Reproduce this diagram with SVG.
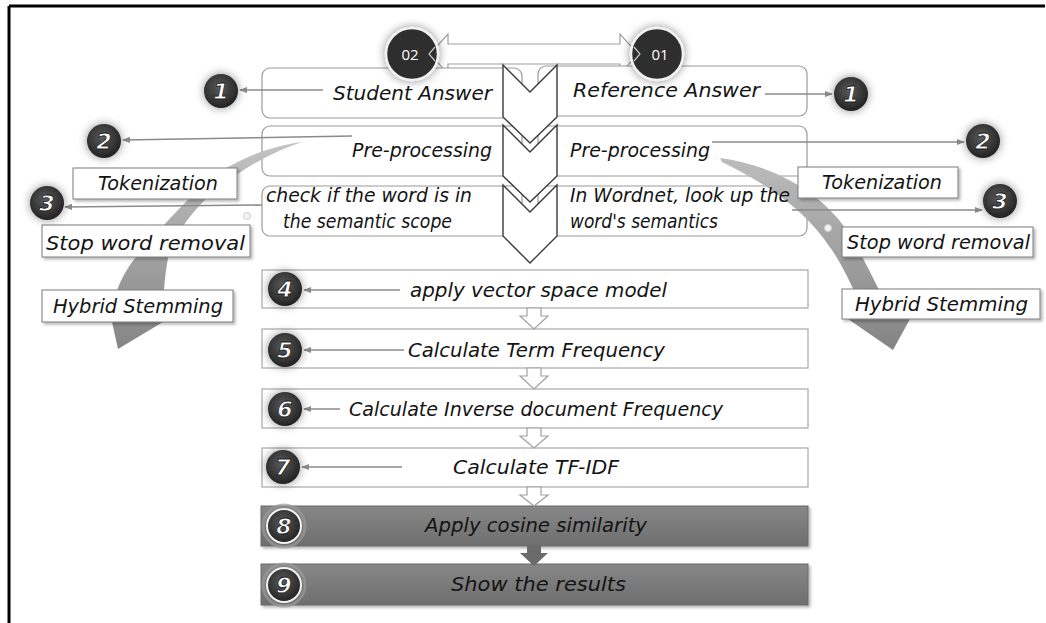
<svg xmlns="http://www.w3.org/2000/svg" width="1046" height="623" viewBox="0 0 1046 623">
  <defs>
    <style>
      .hand { font-family: "DejaVu Sans", "Noto Sans", sans-serif; font-style: italic; font-size: 20px; fill: #141414; }
      .rbox { fill: #fff; stroke: #9a9a9a; stroke-width: 1.2; }
      .step { fill: #fff; stroke: #a8a8a8; stroke-width: 1.2; }
      .dark { fill: url(#darkFill); stroke: #6a6a6a; stroke-width: 1; filter: url(#shadow); }
      .tag { fill: #fff; stroke: #7a7a7a; stroke-width: 1; filter: url(#shadow); }
      .chev { fill: #fff; stroke: #3a3a3a; stroke-width: 1.4; stroke-linejoin: miter; }
      .hollow { fill: #fff; stroke: #a0a0a0; stroke-width: 1.2; }
      .conn { stroke: #8a8a8a; stroke-width: 1.6; fill: none; marker-end: url(#tip); }
      .glowline { stroke: #f4f4f4; stroke-width: 3; fill: none; stroke-linecap: round; filter: url(#whiteGlow); marker-end: url(#tipLight); }
      .badge { fill: url(#ball); filter: url(#glow); }
      .num { font-family: "DejaVu Sans", sans-serif; font-weight: bold; font-style: italic; font-size: 22px; fill: #fff; stroke: #1a1a1a; stroke-width: 0.8; text-anchor: middle; }
      .seq { font-family: "Open Sans", "Liberation Sans", sans-serif; font-size: 15px; fill: #fff; text-anchor: middle; }
    </style>
    <radialGradient id="ball" cx="45%" cy="40%" r="65%">
      <stop offset="0" stop-color="#5a5a5a"/>
      <stop offset="1" stop-color="#1e1e1e"/>
    </radialGradient>
    <linearGradient id="darkFill" x1="0" y1="0" x2="0" y2="1">
      <stop offset="0" stop-color="#878787"/>
      <stop offset="1" stop-color="#6e6e6e"/>
    </linearGradient>
    <linearGradient id="swoopL" gradientUnits="userSpaceOnUse" x1="0" y1="140" x2="0" y2="350">
      <stop offset="0" stop-color="#c4c4c4"/>
      <stop offset="1" stop-color="#858585"/>
    </linearGradient>
    <linearGradient id="swoopR" gradientUnits="userSpaceOnUse" x1="0" y1="155" x2="0" y2="350">
      <stop offset="0" stop-color="#bdbdbd"/>
      <stop offset="1" stop-color="#848484"/>
    </linearGradient>
    <filter id="glow" x="-90%" y="-90%" width="280%" height="280%">
      <feGaussianBlur in="SourceAlpha" stdDeviation="5"/>
      <feComponentTransfer><feFuncA type="linear" slope="0.45"/></feComponentTransfer>
      <feMerge><feMergeNode/><feMergeNode in="SourceGraphic"/></feMerge>
    </filter>
    <filter id="shadow" x="-10%" y="-30%" width="120%" height="170%">
      <feGaussianBlur in="SourceAlpha" stdDeviation="1.5"/>
      <feOffset dx="1.5" dy="2"/>
      <feComponentTransfer><feFuncA type="linear" slope="0.3"/></feComponentTransfer>
      <feMerge><feMergeNode/><feMergeNode in="SourceGraphic"/></feMerge>
    </filter>
    <filter id="whiteGlow" x="-20%" y="-300%" width="140%" height="700%">
      <feGaussianBlur in="SourceGraphic" stdDeviation="2.5" result="b"/>
      <feMerge><feMergeNode in="b"/><feMergeNode in="SourceGraphic"/></feMerge>
    </filter>
    <marker id="tip" viewBox="0 0 10 10" refX="9" refY="5" markerWidth="5" markerHeight="5" orient="auto">
      <path d="M0,1 L10,5 L0,9 Z" fill="#8a8a8a"/>
    </marker>
    <marker id="tipLight" viewBox="0 0 10 10" refX="9" refY="5" markerWidth="3" markerHeight="3" orient="auto">
      <path d="M0,1 L10,5 L0,9 Z" fill="#e8e8e8"/>
    </marker>
  </defs>

  <rect width="1046" height="623" fill="#fff"/>

  <!-- frame -->
  <g id="frame" stroke="#000" stroke-width="3" fill="none">
    <line x1="9" y1="6" x2="1045" y2="6"/>
    <line x1="9" y1="6" x2="9" y2="623"/>
  </g>

  <!-- two-way arrow between the answer markers -->
  <g id="exchange">
    <polygon class="hollow" stroke="#c8c8c8" points="430,54 448,34 448,44 620,44 620,34 638,54 620,74 620,64 448,64 448,74"/>
  </g>

  <!-- upper rounded boxes -->
  <g id="student-answer"><rect class="rbox" x="262" y="68" width="260" height="50" rx="8"/></g>
  <g id="student-pre"><rect class="rbox" x="262" y="126" width="260" height="50" rx="8"/></g>
  <g id="student-scope"><rect class="rbox" x="262" y="186" width="260" height="50" rx="8"/></g>
  <g id="reference-answer"><rect class="rbox" x="538" y="66" width="269" height="50" rx="8"/></g>
  <g id="reference-pre"><rect class="rbox" x="538" y="126" width="269" height="50" rx="8"/></g>
  <g id="reference-wordnet"><rect class="rbox" x="538" y="186" width="269" height="50" rx="8"/></g>

  <!-- central chevron column -->
  <g id="chevrons">
    <path class="chev" d="M503,65 L530,92 L557,65 L557,117 L530,143 L503,117 Z"/>
    <path class="chev" d="M503,125 L530,152 L557,125 L557,176 L530,202 L503,176 Z"/>
    <path class="chev" d="M503,185 L530,212 L557,185 L557,236 L530,263 L503,236 Z"/>
  </g>

  <!-- curved process arrows -->
  <g id="swoops">
    <path fill="url(#swoopL)" d="M302,142 C270,146 235,160 212,178 C185,200 150,240 132,262 C118,282 112,300 112,322 L118,349 L163,322 C163,300 164,280 168,258 C175,236 186,220 200,205 C225,180 262,155 302,142 Z"/>
    <path fill="url(#swoopR)" d="M720,158 C775,165 825,195 850,235 C862,255 874,280 884,300 L910,319 L893,350 L848,319 L860,305 C852,285 842,265 832,250 C815,225 790,195 722,162 Z"/>
    <circle cx="247" cy="216" r="3.5" fill="#f2f2f2" stroke="#d0d0d0" stroke-width="1"/>
    <circle cx="828" cy="228" r="3.5" fill="#f2f2f2" stroke="#d0d0d0" stroke-width="1"/>
  </g>

  <!-- upper texts -->
  <g id="upper-text">
    <text class="hand" x="333" y="100" textLength="159" lengthAdjust="spacingAndGlyphs">Student Answer</text>
    <text class="hand" x="573" y="97" textLength="187" lengthAdjust="spacingAndGlyphs">Reference Answer</text>
    <text class="hand" x="352" y="157" textLength="140" lengthAdjust="spacingAndGlyphs">Pre-processing</text>
    <text class="hand" x="570" y="157" textLength="140" lengthAdjust="spacingAndGlyphs">Pre-processing</text>
    <text class="hand" x="266" y="202" textLength="206" lengthAdjust="spacingAndGlyphs">check if the word is in</text>
    <text class="hand" x="283" y="228" textLength="169" lengthAdjust="spacingAndGlyphs">the semantic scope</text>
    <text class="hand" x="570" y="202" textLength="220" lengthAdjust="spacingAndGlyphs">In Wordnet, look up the</text>
    <text class="hand" x="570" y="228" textLength="148" lengthAdjust="spacingAndGlyphs">word's semantics</text>
  </g>

  <!-- pre-processing sub-steps -->
  <g id="tok-left"><rect class="tag" x="73" y="168" width="164" height="31"/><text class="hand" x="98" y="190" textLength="120" lengthAdjust="spacingAndGlyphs">Tokenization</text></g>
  <g id="stop-left"><rect class="tag" x="42" y="225" width="208" height="32"/><text class="hand" x="46" y="250" textLength="199" lengthAdjust="spacingAndGlyphs">Stop word removal</text></g>
  <g id="stem-left"><rect class="tag" x="42" y="290" width="191" height="32"/><text class="hand" x="53" y="313" textLength="170" lengthAdjust="spacingAndGlyphs">Hybrid Stemming</text></g>
  <g id="tok-right"><rect class="tag" x="798" y="167" width="160" height="31"/><text class="hand" x="822" y="189" textLength="120" lengthAdjust="spacingAndGlyphs">Tokenization</text></g>
  <g id="stop-right"><rect class="tag" x="842" y="227" width="191" height="30"/><text class="hand" x="847" y="249" textLength="183" lengthAdjust="spacingAndGlyphs">Stop word removal</text></g>
  <g id="stem-right"><rect class="tag" x="842" y="289" width="198" height="30"/><text class="hand" x="855" y="311" textLength="173" lengthAdjust="spacingAndGlyphs">Hybrid Stemming</text></g>

  <!-- lower process steps -->
  <g id="step4"><rect class="step" x="262" y="270" width="546" height="38"/><text class="hand" x="410" y="297" textLength="257" lengthAdjust="spacingAndGlyphs">apply vector space model</text></g>
  <g id="step5"><rect class="step" x="262" y="329" width="546" height="39"/><text class="hand" x="408" y="357" textLength="257" lengthAdjust="spacingAndGlyphs">Calculate Term Frequency</text></g>
  <g id="step6"><rect class="step" x="262" y="389" width="546" height="39"/><text class="hand" x="349" y="416" textLength="374" lengthAdjust="spacingAndGlyphs">Calculate Inverse document Frequency</text></g>
  <g id="step7"><rect class="step" x="262" y="448" width="546" height="39"/><text class="hand" x="453" y="474" textLength="166" lengthAdjust="spacingAndGlyphs">Calculate TF-IDF</text></g>
  <g id="step8"><rect class="dark" x="261" y="506" width="547" height="40"/><text class="hand" x="425" y="532" textLength="222" lengthAdjust="spacingAndGlyphs">Apply cosine similarity</text></g>
  <g id="step9"><rect class="dark" x="261" y="564" width="547" height="41"/><text class="hand" x="451" y="591" textLength="175" lengthAdjust="spacingAndGlyphs">Show the results</text></g>

  <!-- connectors -->
  <g id="connectors">
    <polygon class="hollow" points="527,308 541,308 541,316 548,316 534,329 520,316 527,316"/>
    <polygon class="hollow" points="527,368 541,368 541,376 548,376 534,389 520,376 527,376"/>
    <polygon class="hollow" points="527,428 541,428 541,436 548,436 534,448 520,436 527,436"/>
    <polygon class="hollow" points="527,487 541,487 541,495 548,495 534,506 520,495 527,495"/>
    <polygon fill="#6b6b6b" points="527,546 541,546 541,553 548,553 534,566 520,553 527,553"/>

    <line class="conn" x1="323" y1="90" x2="240" y2="90"/>
    <line class="conn" x1="765" y1="94" x2="832" y2="94"/>
    <line class="conn" x1="352" y1="136" x2="123" y2="140"/>
    <line class="conn" x1="712" y1="142" x2="964" y2="142"/>
    <line class="conn" x1="262" y1="205" x2="65" y2="207"/>
    <line class="conn" x1="792" y1="210" x2="982" y2="210"/>

    <line class="conn" x1="400" y1="290" x2="304" y2="290"/>
    <line class="conn" x1="404" y1="350" x2="304" y2="350"/>
    <line class="conn" x1="340" y1="409" x2="304" y2="409"/>
    <line class="conn" x1="402" y1="467" x2="302" y2="467"/>
    <line class="glowline" x1="406" y1="526" x2="304" y2="526"/>
    <line class="glowline" x1="406" y1="585" x2="304" y2="585"/>
  </g>

  <!-- answer markers -->
  <g id="marker-02">
    <circle cx="412" cy="54" r="26" fill="#2d2d2d" stroke="#f2f2f2" stroke-width="2.5" filter="url(#glow)"/>
    <polyline points="435,47 429,54 435,61" fill="none" stroke="#c8c8c8" stroke-width="1.2"/>
    <text class="seq" x="410" y="60">02</text>
  </g>
  <g id="marker-01">
    <circle cx="657" cy="54" r="26" fill="#2d2d2d" stroke="#f2f2f2" stroke-width="2.5" filter="url(#glow)"/>
    <polyline points="634,47 640,54 634,61" fill="none" stroke="#c8c8c8" stroke-width="1.2"/>
    <text class="seq" x="660" y="60">01</text>
  </g>

  <!-- numbered badges -->
  <g id="badge-1L"><circle class="badge" cx="221" cy="91" r="17"/><text class="num" x="221" y="99">1</text></g>
  <g id="badge-1R"><circle class="badge" cx="851" cy="94" r="17"/><text class="num" x="851" y="102">1</text></g>
  <g id="badge-2L"><circle class="badge" cx="104" cy="141" r="17"/><text class="num" x="104" y="149">2</text></g>
  <g id="badge-2R"><circle class="badge" cx="983" cy="141" r="17"/><text class="num" x="983" y="149">2</text></g>
  <g id="badge-3L"><circle class="badge" cx="47" cy="203" r="17"/><text class="num" x="47" y="211">3</text></g>
  <g id="badge-3R"><circle class="badge" cx="1000" cy="201" r="17"/><text class="num" x="1000" y="209">3</text></g>
  <g id="badge-4"><circle class="badge" cx="285" cy="289" r="17"/><text class="num" x="285" y="297">4</text></g>
  <g id="badge-5"><circle class="badge" cx="285" cy="350" r="17"/><text class="num" x="285" y="358">5</text></g>
  <g id="badge-6"><circle class="badge" cx="285" cy="409" r="17"/><text class="num" x="285" y="417">6</text></g>
  <g id="badge-7"><circle class="badge" cx="283" cy="467" r="17"/><text class="num" x="283" y="475">7</text></g>
  <g id="badge-8">
    <circle cx="284" cy="526" r="21" fill="none" stroke="#9a9a9a" stroke-width="3" opacity="0.7"/>
    <circle cx="284" cy="526" r="17" fill="url(#ball)" stroke="#f2f2f2" stroke-width="2"/>
    <text class="num" x="284" y="534">8</text>
  </g>
  <g id="badge-9">
    <circle cx="284" cy="585" r="21" fill="none" stroke="#9a9a9a" stroke-width="3" opacity="0.7"/>
    <circle cx="284" cy="585" r="17" fill="url(#ball)" stroke="#f2f2f2" stroke-width="2"/>
    <text class="num" x="284" y="593">9</text>
  </g>
</svg>
